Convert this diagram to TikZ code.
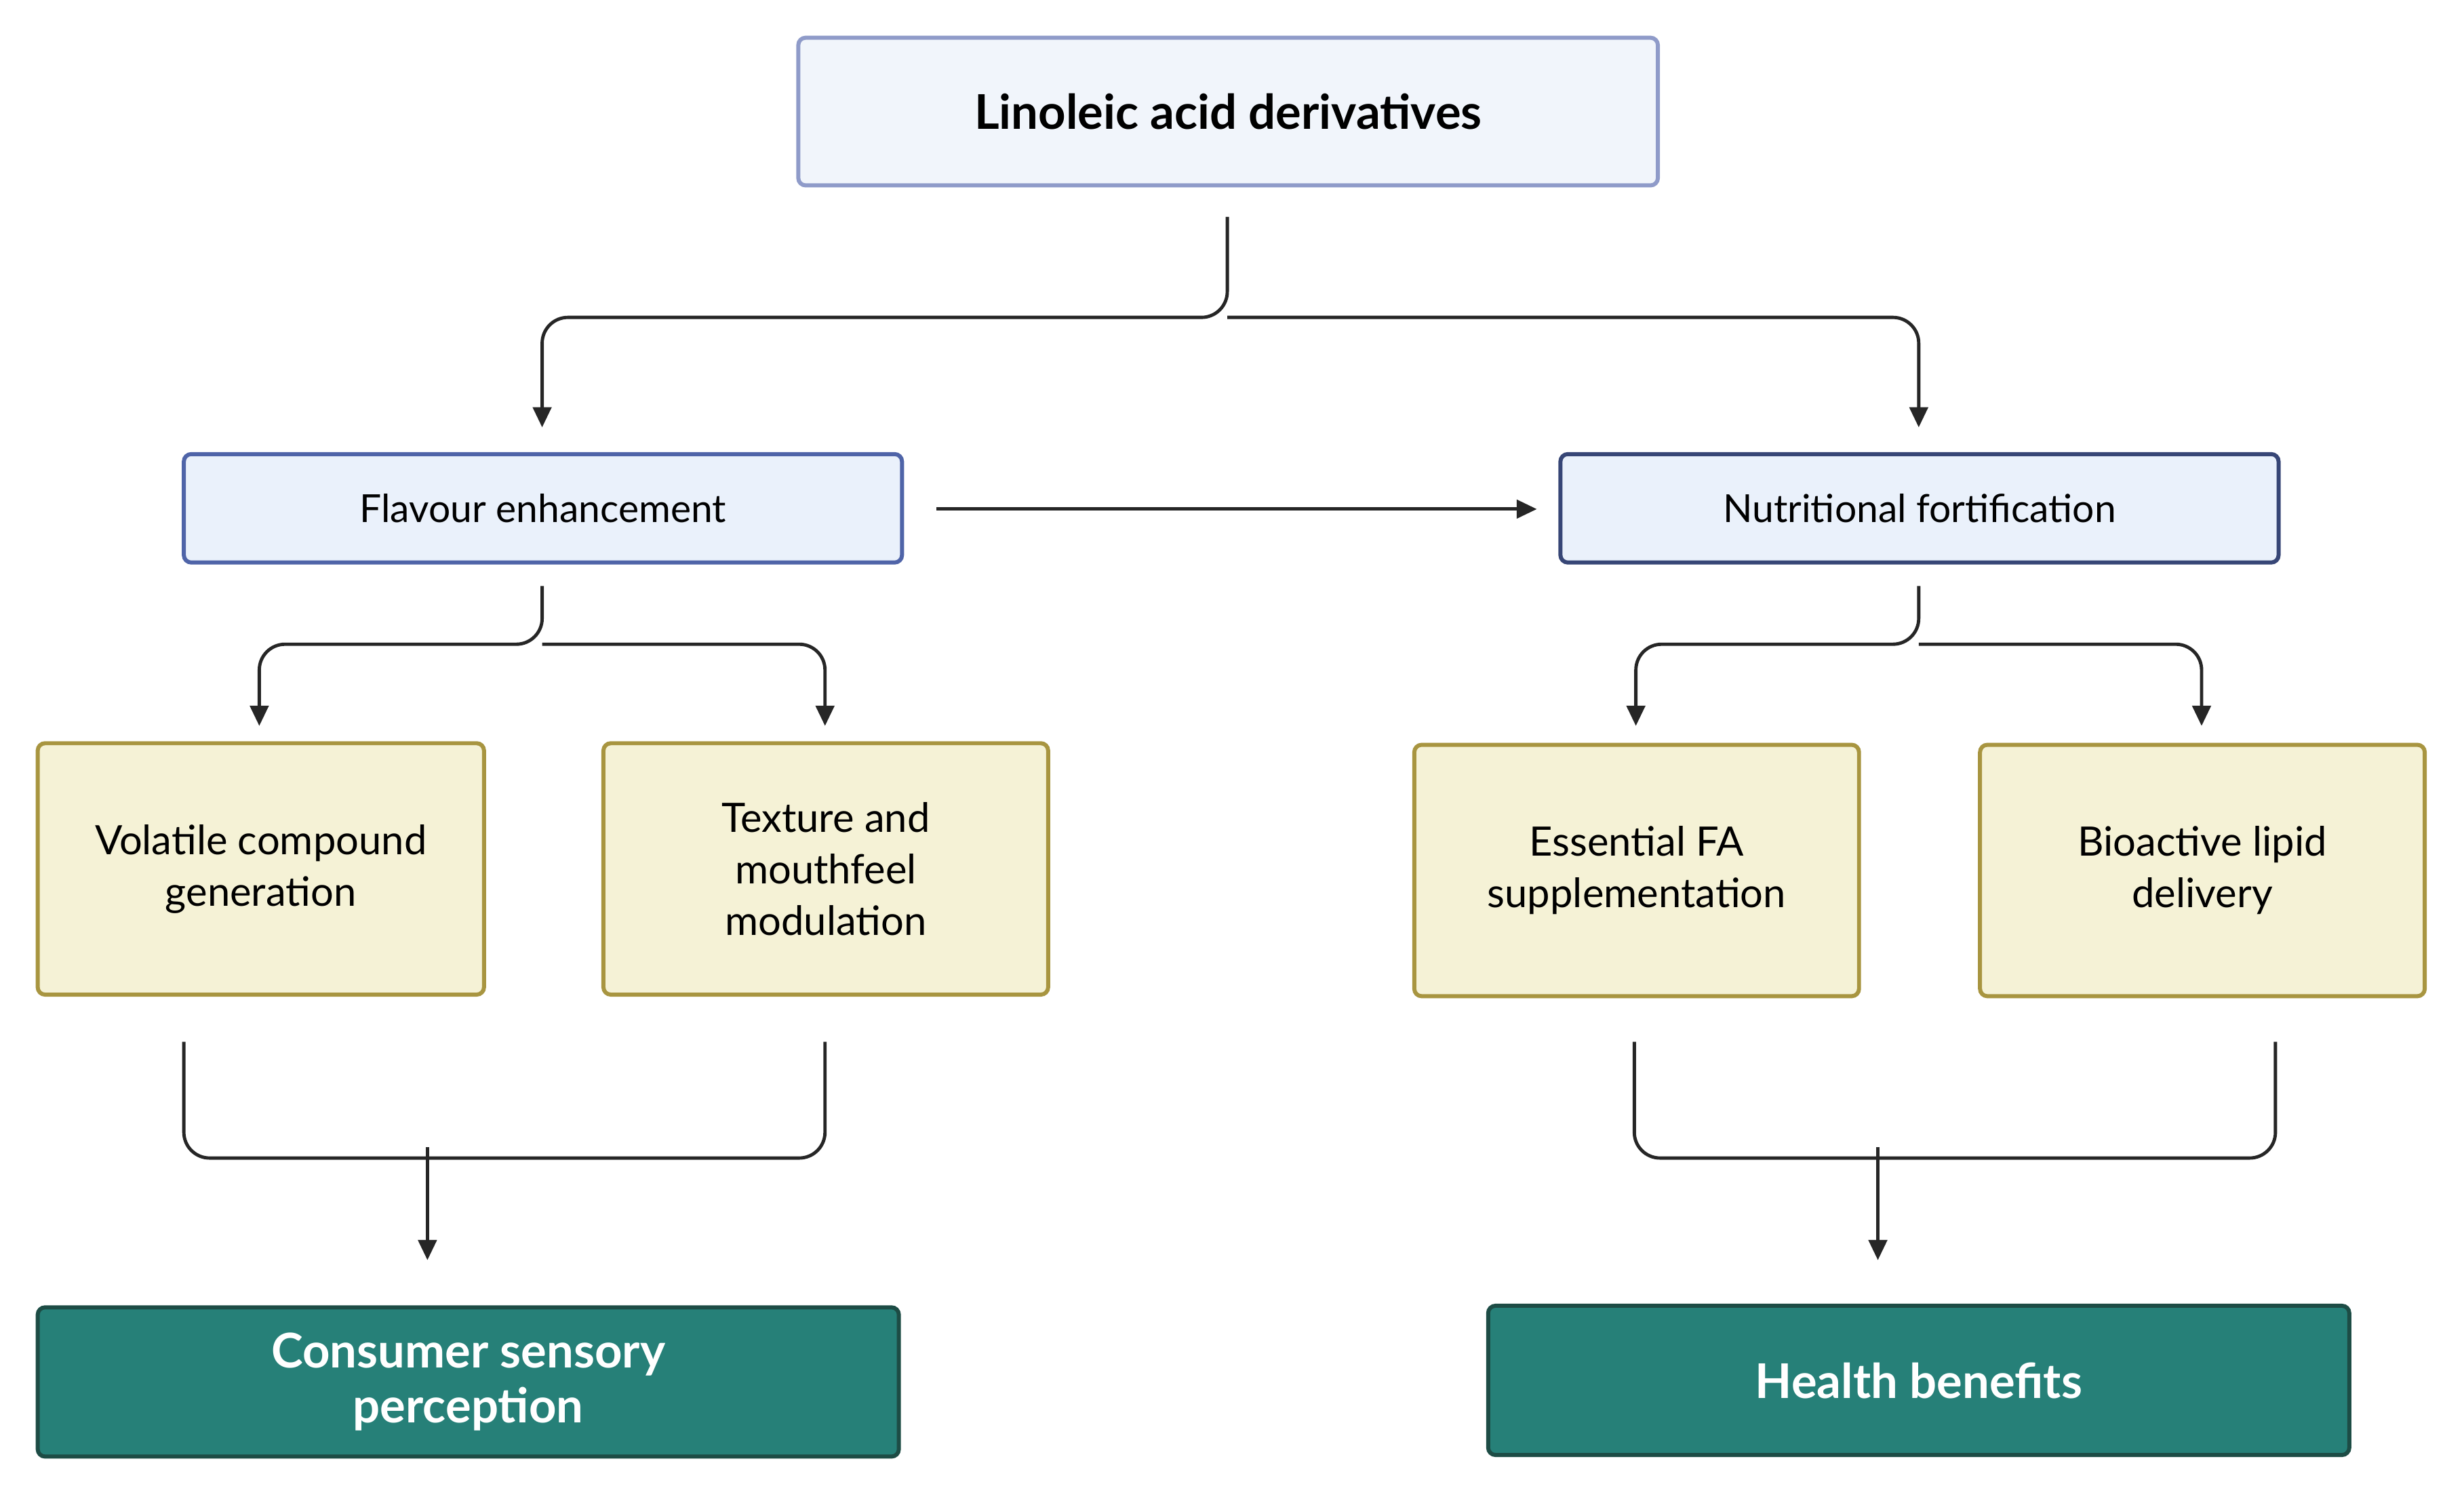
\documentclass[tikz,border=0pt]{standalone}
\usepackage{fontspec}
\setmainfont{Lato}
\usetikzlibrary{arrows.meta}
\definecolor{topfill}{HTML}{F1F5FB}\definecolor{topdraw}{HTML}{8F9BC9}
\definecolor{midfill}{HTML}{EAF1FB}\definecolor{middraw}{HTML}{4F64A8}
\definecolor{yfill}{HTML}{F5F2D6}\definecolor{ydraw}{HTML}{A89540}
\definecolor{gfill}{HTML}{268078}\definecolor{gdraw}{HTML}{1D4C45}
\tikzset{
 box/.style={draw, line width=2.2pt, rounded corners=4pt, align=center, inner sep=0pt},
 topb/.style={box, fill=topfill, draw=topdraw, font=\fontsize{26}{31}\selectfont\bfseries},
 midb/.style={box, fill=midfill, draw=middraw, font=\fontsize{21}{26}\selectfont},
 yb/.style={box, fill=yfill, draw=ydraw, font=\fontsize{22}{28}\selectfont},
 gb/.style={box, fill=gfill, draw=gdraw, text=white, font=\fontsize{26}{30}\selectfont\bfseries},
 con/.style={line width=1.8pt, draw=black!85, rounded corners=14pt},
 arr/.style={con, -{Triangle[length=11pt,width=10pt]}}
}
\begin{document}
\begin{tikzpicture}[x=0.03cm,y=-0.03cm]
\useasboundingbox (0,0) rectangle (1568,954);
\node[topb, minimum width=547*0.03cm, minimum height=94*0.03cm] (top) at (781.5,71) {Linoleic acid derivatives};
\node[midb, minimum width=457*0.03cm, minimum height=69*0.03cm] (fl) at (345.5,323.5) {Flavour enhancement};
\node[midb, draw=middraw!70!black, minimum width=457*0.03cm, minimum height=69*0.03cm] (nu) at (1221.5,323.5) {Nutritional fortification};
\node[yb, minimum width=284*0.03cm, minimum height=160*0.03cm] (vo) at (166,553) {Volatile compound\\generation};
\node[yb, minimum width=283*0.03cm, minimum height=160*0.03cm] (te) at (525.5,553) {Texture and\\mouthfeel\\modulation};
\node[yb, minimum width=283*0.03cm, minimum height=160*0.03cm] (es) at (1041.5,554) {Essential FA\\supplementation};
\node[yb, minimum width=283*0.03cm, minimum height=160*0.03cm] (bi) at (1401.5,554) {Bioactive lipid\\delivery};
\node[gb, minimum width=548*0.03cm, minimum height=95*0.03cm] (cs) at (298,879.5) {Consumer sensory\\perception};
\node[gb, minimum width=548*0.03cm, minimum height=95*0.03cm] (hb) at (1221,878.5) {Health benefits};
% top split
\coordinate (t0) at (781,138); \coordinate (t1) at (781,202);
\draw[arr] (t0) -- (t1) -| (345,272);
\draw[arr] (t1) -| (1221,272);
\draw[arr] (596,324) -- (978,324);
% flavour split
\coordinate (f1) at (345,410);
\draw[arr] (345,373) -- (f1) -| (165,462);
\draw[arr] (f1) -| (525,462);
\coordinate (n1) at (1221,410);
\draw[arr] (1221,373) -- (n1) -| (1041,462);
\draw[arr] (n1) -| (1401,462);
% merges
\coordinate (m1) at (272,737);
\draw[con] (117,663) |- (m1);
\draw[con] (525,663) |- (m1);
\draw[arr] (272,730) -- (272,802);
\coordinate (m2) at (1195,737);
\draw[con] (1040,663) |- (m2);
\draw[con] (1448,663) |- (m2);
\draw[arr] (1195,730) -- (1195,802);
\end{tikzpicture}
\end{document}
